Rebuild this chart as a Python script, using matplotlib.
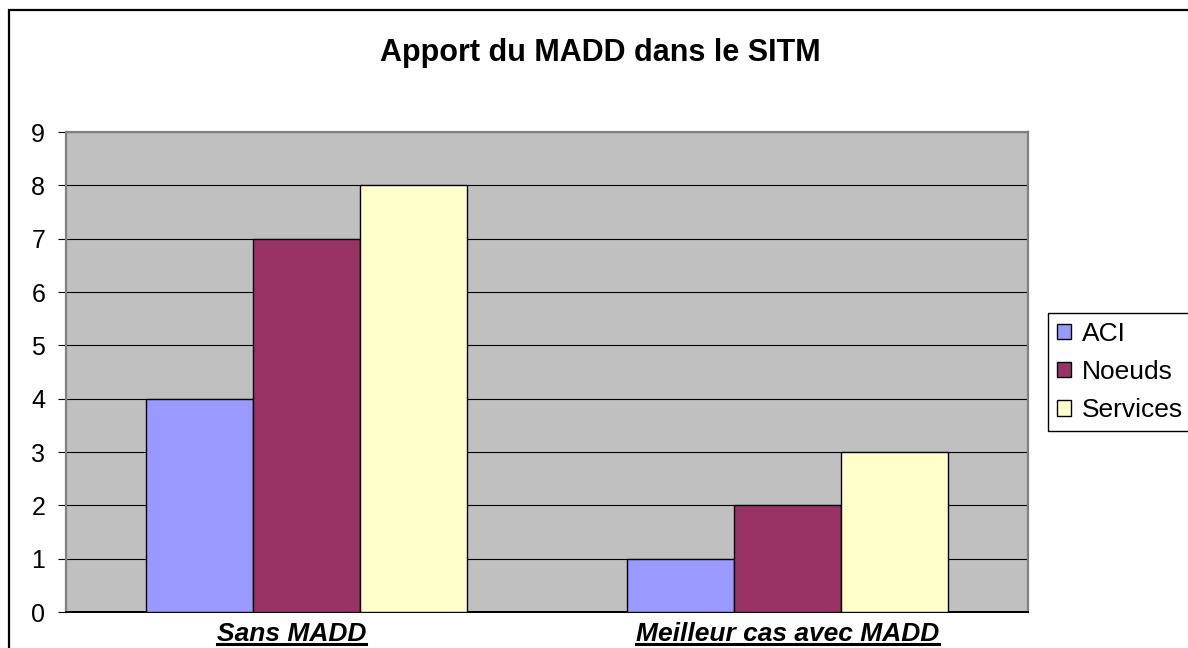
import numpy as np
import matplotlib
matplotlib.use("Agg")
import matplotlib.pyplot as plt
from matplotlib.patches import Rectangle
from matplotlib.lines import Line2D

plt.rcParams['font.family'] = ['Liberation Sans', 'DejaVu Sans']

title = "Apport du MADD dans le SITM"
categories = ["Sans MADD", "Meilleur cas avec MADD"]
series_names = ["ACI", "Noeuds", "Services"]
aci = [4, 1]
noeuds = [7, 2]
services = [8, 3]
series_colors = ["#9999FF", "#993366", "#FFFFCC"]
y_ticks = list(range(0, 10))

W, H = 1188, 648
fig = plt.figure(figsize=(W / 100, H / 100), dpi=100)
fig.patch.set_facecolor("white")

# outer chart frame (only top/left edges fall inside the canvas)
fig.add_artist(Rectangle((8.5 / W, -0.5), 2.0, (H - 9.5) / H + 0.5,
                         transform=fig.transFigure, fill=False,
                         edgecolor="black", linewidth=1.6))

ax = fig.add_axes([66 / W, 36 / H, (1028 - 66) / W, (612 - 132) / H])
ax.set_facecolor("#C0C0C0")

x = np.arange(len(categories))
bw = 0.222
for i, (vals, name, col) in enumerate(zip([aci, noeuds, services], series_names, series_colors)):
    ax.bar(x + (i - 1) * bw, vals, width=bw, color=col, edgecolor="black",
           linewidth=1.0, label=name, zorder=3)

ax.set_xlim(-0.5, len(categories) - 0.5)
ax.set_ylim(0, 9)
ax.set_yticks(y_ticks)
ax.set_yticklabels([str(t) for t in y_ticks], fontsize=18)
ax.yaxis.grid(True, color="black", linewidth=0.8, zorder=1)
ax.set_axisbelow(True)
ax.tick_params(axis="y", direction="out", length=6, width=0.8, pad=9)

# category labels: bold italic, underlined, hung below the axis
ax.set_xticks(x)
ax.set_xticklabels([])
ax.tick_params(axis="x", length=0)
label_shift = [-11, 0]  # horizontal nudge in points
cat_labels = []
for xi, cat, dx in zip(x, categories, label_shift):
    t = ax.annotate(cat, xy=(xi, 0), xycoords=("data", "axes fraction"),
                    xytext=(dx, -7.5), textcoords="offset points",
                    ha="center", va="top", fontsize=19,
                    fontweight="bold", fontstyle="italic", annotation_clip=False)
    cat_labels.append(t)

for side in ["left", "top", "right"]:
    ax.spines[side].set_color("#808080")
    ax.spines[side].set_linewidth(1.6)
ax.spines["bottom"].set_color("black")
ax.spines["bottom"].set_linewidth(1.4)

fig.text(600 / W, 1 - 53 / H, title, fontsize=22, fontweight="bold",
         ha="center", va="center")

leg = ax.legend(loc="upper left", bbox_to_anchor=(1048 / W, 1 - 313 / H),
                bbox_transform=fig.transFigure, fontsize=19, frameon=True,
                fancybox=False, edgecolor="black", framealpha=1.0,
                borderpad=0.33, labelspacing=0.54, handlelength=0.54,
                handleheight=0.54, handletextpad=0.4, borderaxespad=0)
leg.get_frame().set_linewidth(1.0)

# underline category labels
fig.canvas.draw()
renderer = fig.canvas.get_renderer()
for lab in cat_labels:
    bb = lab.get_window_extent(renderer)
    yline = bb.y0 + 2
    fig.add_artist(Line2D([bb.x0 / W, bb.x1 / W], [yline / H, yline / H],
                          transform=fig.transFigure, color="black", linewidth=2.2))

fig.savefig("out.png", dpi=100)
